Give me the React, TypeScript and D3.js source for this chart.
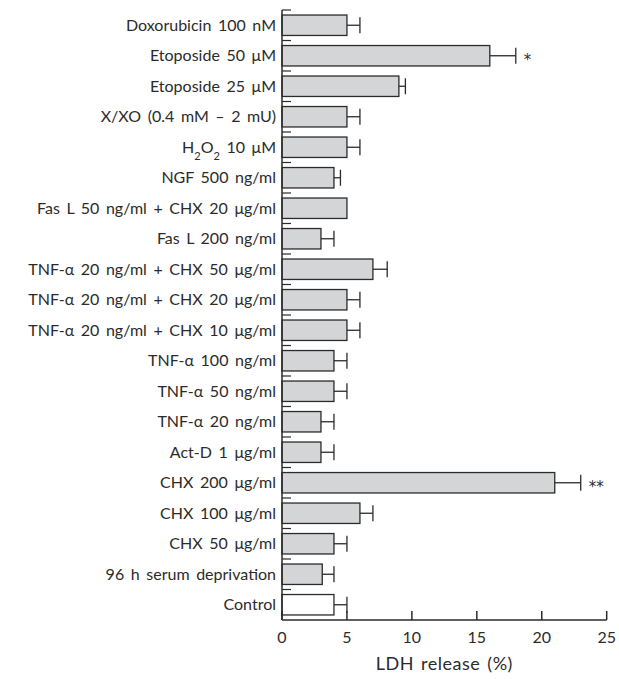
import React, { useEffect, useRef } from 'react'
import * as d3 from "d3"

// Data, top to bottom
const treatments = [
  "Doxorubicin 100 nM",
  "Etoposide 50 μM",
  "Etoposide 25 μM",
  "X/XO (0.4 mM – 2 mU)",
  "H_2O_2 10 μM",
  "NGF 500 ng/ml",
  "Fas L 50 ng/ml + CHX 20 μg/ml",
  "Fas L 200 ng/ml",
  "TNF-α 20 ng/ml + CHX 50 μg/ml",
  "TNF-α 20 ng/ml + CHX 20 μg/ml",
  "TNF-α 20 ng/ml + CHX 10 μg/ml",
  "TNF-α 100 ng/ml",
  "TNF-α 50 ng/ml",
  "TNF-α 20 ng/ml",
  "Act-D 1 μg/ml",
  "CHX 200 μg/ml",
  "CHX 100 μg/ml",
  "CHX 50 μg/ml",
  "96 h serum deprivation",
  "Control",
]
const ldhRelease = [5, 16, 9, 5, 5, 4, 5, 3, 7, 5, 5, 4, 4, 3, 3, 21, 6, 4, 3.1, 4]
const ldhError = [1, 2, 0.5, 1, 1, 0.5, 0, 1, 1.1, 1, 1, 1, 1, 1, 1, 2, 1, 1, 0.9, 1]
const significance = ["", "*", "", "", "", "", "", "", "", "", "", "", "", "", "", "**", "", "", "", ""]
const xTicks = [0, 5, 10, 15, 20, 25]

const FONT = "Lato, 'Noto Sans', sans-serif"
const INK = "#2b2b2b"

const App = () => {
  const ref = useRef(null)

  useEffect(() => {
    let dimensions = {
      width: 619,
      height: 679,
      margins: { top: 10, right: 12, bottom: 59, left: 282 },
    }
    dimensions.boundedWidth = dimensions.width - dimensions.margins.left - dimensions.margins.right
    dimensions.boundedHeight = dimensions.height - dimensions.margins.top - dimensions.margins.bottom

    d3.select(ref.current).selectAll("*").remove()

    const wrapper = d3.select(ref.current)
      .append("svg")
      .attr("width", dimensions.width)
      .attr("height", dimensions.height)
      .style("position", "absolute")
      .style("left", "0px")
      .style("top", "0px")
      .style("background", "#fff")

    const bounds = wrapper.append("g")
      .attr("transform", `translate(${dimensions.margins.left}, ${dimensions.margins.top})`)

    const xScale = d3.scaleLinear()
      .domain([0, 25])
      .range([0, 324.7])

    const yScale = d3.scaleBand()
      .domain(treatments)
      .range([0, dimensions.boundedHeight])
      .paddingInner(0.33)
      .paddingOuter(0.165)

    const rows = treatments.map((t, i) => ({
      t, v: ldhRelease[i], e: ldhError[i], s: significance[i], control: t === "Control",
    }))

    // Bars
    bounds.selectAll("rect.bar")
      .data(rows)
      .join("rect")
      .attr("class", "bar")
      .attr("x", xScale(0))
      .attr("y", d => yScale(d.t))
      .attr("width", d => xScale(d.v) - xScale(0))
      .attr("height", yScale.bandwidth())
      .attr("fill", d => d.control ? "#ffffff" : "#d4d5d6")
      .attr("stroke", INK)
      .attr("stroke-width", 1.3)

    // Error bars
    const errs = rows.filter(d => d.e > 0)
    bounds.selectAll("line.err")
      .data(errs)
      .join("line")
      .attr("class", "err")
      .attr("x1", d => xScale(d.v))
      .attr("x2", d => xScale(d.v + d.e))
      .attr("y1", d => yScale(d.t) + yScale.bandwidth() / 2)
      .attr("y2", d => yScale(d.t) + yScale.bandwidth() / 2)
      .attr("stroke", INK)
      .attr("stroke-width", 1.3)
    bounds.selectAll("line.cap")
      .data(errs)
      .join("line")
      .attr("class", "cap")
      .attr("x1", d => xScale(d.v + d.e))
      .attr("x2", d => xScale(d.v + d.e))
      .attr("y1", d => yScale(d.t) + yScale.bandwidth() / 2 - 8)
      .attr("y2", d => yScale(d.t) + yScale.bandwidth() / 2 + 8)
      .attr("stroke", INK)
      .attr("stroke-width", 1.3)

    // Significance marks
    bounds.selectAll("text.sig")
      .data(rows.filter(d => d.s))
      .join("text")
      .attr("class", "sig")
      .attr("x", d => xScale(d.v + d.e) + 8)
      .attr("y", d => yScale(d.t) + yScale.bandwidth() / 2 + 9)
      .attr("fill", INK)
      .style("font-family", "'DejaVu Sans', sans-serif")
      .style("font-size", "15px")
      .text(d => d.s)

    // Y axis line and row separators
    bounds.append("line")
      .attr("x1", 0).attr("x2", 0)
      .attr("y1", 0).attr("y2", dimensions.boundedHeight)
      .attr("stroke", INK)
      .attr("stroke-width", 1.5)
    const step = yScale.step()
    const boundaries = treatments.map(t => yScale(t) - yScale.paddingOuter() * step)
    bounds.selectAll("line.sep")
      .data(boundaries)
      .join("line")
      .attr("class", "sep")
      .attr("x1", 0).attr("x2", 9)
      .attr("y1", d => d).attr("y2", d => d)
      .attr("stroke", INK)
      .attr("stroke-width", 1.2)

    // Category labels
    const labels = bounds.selectAll("text.cat")
      .data(rows)
      .join("text")
      .attr("class", "cat")
      .attr("x", -6)
      .attr("y", d => yScale(d.t) + yScale.bandwidth() / 2 + 5.5)
      .attr("text-anchor", "end")
      .attr("fill", INK)
      .style("font-family", FONT)
      .style("font-size", "16px")
      .style("word-spacing", "2.5px")
    labels.each(function (d) {
      const parts = d.t.split(/_(\d)/)
      const el = d3.select(this)
      parts.forEach((p, i) => {
        if (!p) return
        const sub = i % 2 === 1
        el.append("tspan")
          .attr("baseline-shift", sub ? "sub" : null)
          .style("font-size", sub ? "11px" : null)
          .text(p)
      })
    })

    // X axis
    const xAxis = bounds.append("g")
      .attr("transform", `translate(0, ${dimensions.boundedHeight})`)
    xAxis.append("line")
      .attr("x1", 0).attr("x2", xScale(25))
      .attr("stroke", INK)
      .attr("stroke-width", 1.5)
    xAxis.selectAll("line.tick")
      .data(xTicks)
      .join("line")
      .attr("class", "tick")
      .attr("x1", d => xScale(d)).attr("x2", d => xScale(d))
      .attr("y1", 0).attr("y2", -9)
      .attr("stroke", INK)
      .attr("stroke-width", 1.5)
    xAxis.selectAll("text.tick")
      .data(xTicks)
      .join("text")
      .attr("class", "tick")
      .attr("x", d => xScale(d))
      .attr("y", 23)
      .attr("text-anchor", "middle")
      .attr("fill", INK)
      .style("font-family", FONT)
      .style("font-size", "16px")
      .text(d => d)

    xAxis.append("text")
      .attr("x", xScale(12.5))
      .attr("y", 50)
      .attr("text-anchor", "middle")
      .attr("fill", INK)
      .style("font-family", FONT)
      .style("font-size", "18px")
      .style("letter-spacing", "0.5px")
      .style("word-spacing", "2px")
      .text("LDH release (%)")
  }, [])

  return <div ref={ref}></div>
}

export default App
